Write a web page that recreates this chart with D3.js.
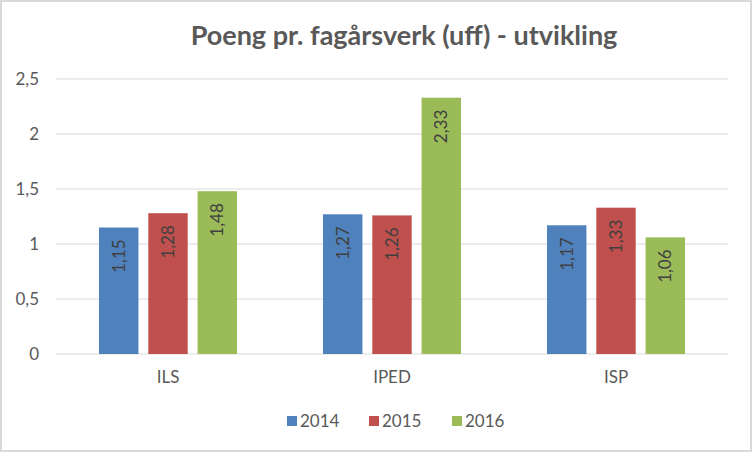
<!DOCTYPE html>
<html><head><meta charset="utf-8">
<script src="https://cdn.jsdelivr.net/npm/d3@7"></script>
<style>body{margin:0;background:#fff}svg{display:block}</style>
</head><body>
<script>
const categories = ["ILS", "IPED", "ISP"];
const seriesNames = ["2014", "2015", "2016"];
const values2014 = [1.15, 1.27, 1.17];
const values2015 = [1.28, 1.26, 1.33];
const values2016 = [1.48, 2.33, 1.06];
const yTicks = [0, 0.5, 1, 1.5, 2, 2.5];
const title = "Poeng pr. fagårsverk (uff) - utvikling";

const seriesValues = [values2014, values2015, values2016];
const colors = ["#4F81BD", "#C0504D", "#9BBB59"];
const fmt = v => String(v).replace(".", ",");

const W = 752, H = 452;
const svg = d3.select("body").append("svg").attr("width", W).attr("height", H);
const font = "Lato, 'Open Sans', sans-serif";

svg.append("rect").attr("x", 1).attr("y", 1).attr("width", W - 2).attr("height", H - 2)
  .attr("fill", "#fff").attr("stroke", "#d9d9d9").attr("stroke-width", 2);

const x0 = d3.scaleBand().domain(categories).range([56, 728]).paddingInner(0).paddingOuter(0);
const x1 = d3.scaleBand().domain(seriesNames).range([43, 224 - 43]).paddingInner(0.2).paddingOuter(0);
const y = d3.scaleLinear().domain([0, 2.5]).range([354, 79]);

svg.append("text").attr("x", 404).attr("y", 45).attr("text-anchor", "middle")
  .attr("font-family", font).attr("font-weight", "bold").attr("font-size", 27)
  .attr("fill", "#595959").text(title);

const grid = svg.append("g");
grid.selectAll("line").data(yTicks).join("line")
  .attr("x1", 56).attr("x2", 728).attr("y1", d => y(d)).attr("y2", d => y(d))
  .attr("stroke", "#d9d9d9").attr("stroke-width", 1);

const yAxis = d3.axisLeft(y).tickValues(yTicks).tickFormat(fmt).tickSize(0).tickPadding(0);
const ya = svg.append("g").attr("transform", "translate(39,0)").call(yAxis);
ya.select(".domain").remove();
ya.selectAll("text").attr("font-family", font).attr("font-size", 17).attr("fill", "#595959");

const xAxis = d3.axisBottom(x0).tickSize(0).tickPadding(0);
const xa = svg.append("g").attr("transform", "translate(0,371)").call(xAxis);
xa.select(".domain").remove();
xa.selectAll("text").attr("font-family", font).attr("font-size", 17).attr("fill", "#595959");

categories.forEach((c, ci) => {
  seriesNames.forEach((s, si) => {
    const v = seriesValues[si][ci];
    const bx = x0(c) + x1(s);
    svg.append("rect").attr("x", bx).attr("y", y(v)).attr("width", x1.bandwidth())
      .attr("height", y(0) - y(v)).attr("fill", colors[si]);
    const cx = bx + x1.bandwidth() / 2;
    const ty = y(v) + 12;
    svg.append("text").attr("transform", `translate(${cx + 6},${ty}) rotate(-90)`)
      .attr("text-anchor", "end").attr("font-family", font).attr("font-size", 17)
      .attr("fill", "#404040").text(fmt(v));
  });
});

const legendX = [287, 369, 452];
const lg = svg.append("g");
seriesNames.forEach((s, i) => {
  lg.append("rect").attr("x", legendX[i]).attr("y", 416).attr("width", 10).attr("height", 10).attr("fill", colors[i]);
  lg.append("text").attr("x", legendX[i] + 13).attr("y", 427).attr("font-family", font)
    .attr("font-size", 17).attr("fill", "#595959").text(s);
});
</script>
</body></html>
